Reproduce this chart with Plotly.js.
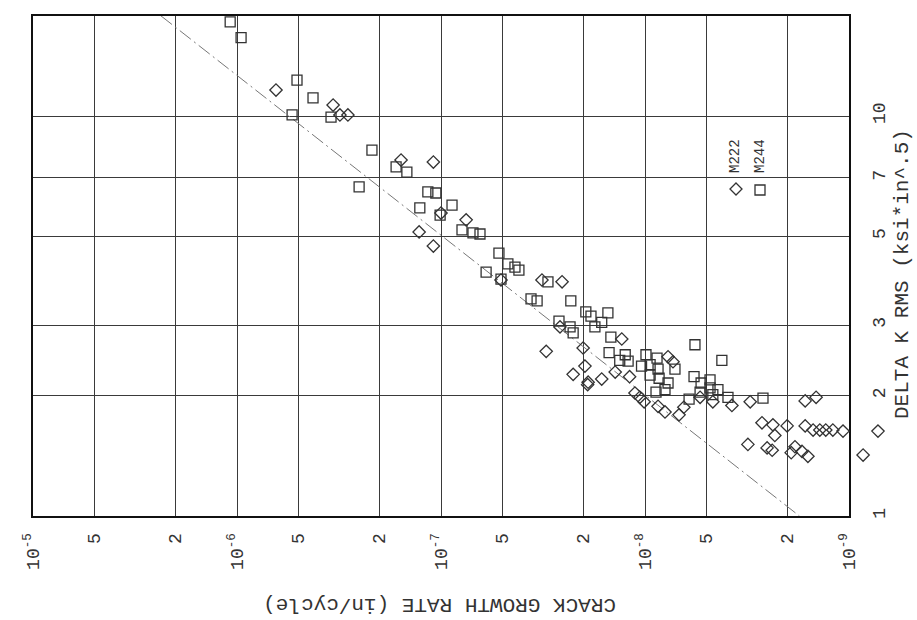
<!DOCTYPE html>
<html>
<head>
<meta charset="utf-8">
<script src="https://cdn.plot.ly/plotly-3.0.1.min.js"></script>
<style>
html,body{margin:0;padding:0;background:#fff;}
#chart{width:917px;height:620px;}
</style>
</head>
<body>
<div id="chart"></div>
<script>
// M244 (squares): crack growth rate (in/cycle) and Delta K RMS (ksi*in^.5)
const m244Rate = [1.08e-6, 9.55e-7, 5.08e-7, 4.24e-7, 5.37e-7, 3.46e-7, 2.18e-7, 2.52e-7, 1.66e-7, 1.47e-7,
  1.16e-7, 1.06e-7, 1.27e-7, 8.83e-8, 1.01e-7, 7.89e-8, 6.97e-8, 6.44e-8, 5.20e-8, 6.01e-8,
  4.70e-8, 4.34e-8, 4.15e-8, 5.08e-8, 2.99e-8, 3.62e-8, 3.38e-8, 2.31e-8, 1.95e-8, 1.84e-8,
  1.52e-8, 1.63e-8, 1.76e-8, 2.64e-8, 2.25e-8, 2.33e-8, 1.47e-8, 1.50e-8, 1.25e-8, 1.33e-8,
  1.21e-8, 9.89e-9, 1.04e-8, 8.73e-9, 7.13e-9, 8.63e-9, 9.44e-9, 9.44e-9, 8.53e-9, 7.71e-9,
  7.98e-9, 8.83e-9, 5.69e-9, 4.20e-9, 5.75e-9, 5.31e-9, 4.80e-9, 5.37e-9, 4.80e-9, 4.39e-9,
  4.65e-9, 3.92e-9, 6.08e-9, 2.64e-9];
const m244K = [17.2, 15.7, 12.3, 11.1, 10.06, 9.94, 8.22, 6.65, 7.46, 7.24,
  6.46, 6.42, 5.89, 5.99, 5.65, 5.19, 5.10, 5.07, 4.54, 4.07,
  4.27, 4.19, 4.12, 3.91, 3.85, 3.49, 3.45, 3.45, 3.24, 3.16,
  3.22, 3.05, 2.97, 3.07, 2.87, 2.97, 2.80, 2.56, 2.53, 2.45,
  2.44, 2.53, 2.37, 2.48, 2.33, 2.33, 2.39, 2.25, 2.21, 2.15,
  2.07, 2.04, 2.68, 2.45, 2.23, 2.15, 2.19, 2.04, 2.09, 2.07,
  2.01, 1.98, 1.96, 1.97];

// M222 (diamonds)
const m222Rate = [6.44e-7, 3.38e-7, 3.13e-7, 2.86e-7, 1.57e-7, 1.09e-7, 1.00e-7, 1.28e-7, 7.53e-8, 1.09e-7,
  5.08e-8, 3.20e-8, 2.55e-8, 2.61e-8, 2.01e-8, 3.05e-8, 1.30e-8, 7.71e-9, 7.29e-9, 1.97e-8,
  2.25e-8, 1.90e-8, 1.91e-8, 1.63e-8, 1.40e-8, 1.19e-8, 1.12e-8, 1.06e-8, 1.01e-8, 8.63e-9,
  7.98e-9, 6.81e-9, 6.45e-9, 5.37e-9, 4.65e-9, 3.75e-9, 3.05e-9, 1.64e-9, 1.45e-9, 2.67e-9,
  2.36e-9, 2.01e-9, 2.31e-9, 1.64e-9, 1.50e-9, 1.39e-9, 1.30e-9, 1.20e-9, 1.07e-9, 3.13e-9,
  2.52e-9, 2.38e-9, 1.92e-9, 1.84e-9, 1.70e-9, 1.59e-9, 7.21e-10, 8.53e-10];
const m222K = [11.61, 10.65, 10.06, 10.06, 7.76, 7.67, 5.72, 5.13, 5.50, 4.73,
  3.89, 3.89, 3.85, 2.97, 2.63, 2.58, 2.77, 2.50, 2.43, 2.37,
  2.26, 2.16, 2.13, 2.20, 2.29, 2.23, 2.03, 1.98, 1.93, 1.88,
  1.82, 1.79, 1.87, 1.98, 1.93, 1.89, 1.93, 1.94, 1.98, 1.71,
  1.69, 1.68, 1.59, 1.68, 1.64, 1.64, 1.64, 1.64, 1.63, 1.51,
  1.48, 1.46, 1.44, 1.49, 1.45, 1.41, 1.63, 1.42];

// fitted line end points
const fitRate = [2.36e-6, 1.75e-9];
const fitK = [17.8, 1.0];

// tick labels
const rateTickVals = [1e-5, 5e-6, 2e-6, 1e-6, 5e-7, 2e-7, 1e-7, 5e-8, 2e-8, 1e-8, 5e-9, 2e-9, 1e-9];
const rateTickText = ['10<sup>-5</sup>', '5', '2', '10<sup>-6</sup>', '5', '2', '10<sup>-7</sup>', '5', '2', '10<sup>-8</sup>', '5', '2', '10<sup>-9</sup>'];
const kTickVals = [1, 2, 3, 5, 7, 10];
const kTickText = ['1', '2', '3', '5', '7', '10'];

const FONT = '"Liberation Mono", "DejaVu Sans Mono", monospace';
const INK = '#333';

// geometry (pixels)
const L = 33, T = 16, FRAME_R = 849, PAPER_R = 895, B = 516;
const W = PAPER_R - L, H = B - T;
const decadePx = (FRAME_R - L) / 4;
const PX = px => (px - L) / W;
const PY = py => (B - py) / H;

const traces = [
  {
    x: fitRate, y: fitK, type: 'scatter', mode: 'lines',
    line: {color: '#777', width: 1, dash: '14px,4px,2px,4px'},
    hoverinfo: 'skip', showlegend: false
  },
  {
    x: m244Rate, y: m244K, type: 'scatter', mode: 'markers', name: 'M244',
    marker: {symbol: 'square-open', size: 10, color: INK, line: {width: 1.3, color: INK}},
    showlegend: false
  },
  {
    x: m222Rate, y: m222K, xaxis: 'x2', yaxis: 'y2', type: 'scatter', mode: 'markers', name: 'M222',
    marker: {symbol: 'diamond-open', size: 9.5, color: INK, line: {width: 1.3, color: INK}},
    showlegend: false
  }
];

const dRect = (cx, cy, h) => ({x0: PX(cx - h), x1: PX(cx + h), y0: PY(cy + h), y1: PY(cy - h)});
const sq = dRect(760, 190, 5);
const dc = {x: PX(736), y: PY(189), hx: 6 / W, hy: 6 / H};

const layout = {
  width: 917, height: 620,
  margin: {l: L, r: 917 - PAPER_R, t: T, b: 620 - B, autoexpand: false},
  paper_bgcolor: '#fff', plot_bgcolor: 'rgba(0,0,0,0)',
  font: {family: FONT, color: INK, size: 18},
  showlegend: false,
  xaxis: {
    type: 'log', range: [-5, -9], domain: [0, (FRAME_R - L) / W],
    tickvals: rateTickVals, ticktext: rateTickText,
    tickangle: -90, ticks: '', ticklabelstandoff: 8,
    tickfont: {family: FONT, size: 18, color: INK},
    showgrid: true, gridcolor: '#3a3a3a', gridwidth: 1,
    showline: true, mirror: true, linecolor: '#111', linewidth: 2,
    zeroline: false, anchor: 'y'
  },
  yaxis: {
    type: 'log', range: [0, 1.25], side: 'right', anchor: 'x',
    tickvals: kTickVals, ticktext: kTickText,
    tickangle: -90, ticks: '', ticklabelstandoff: 12,
    tickfont: {family: FONT, size: 18, color: INK},
    showgrid: true, gridcolor: '#3a3a3a', gridwidth: 1,
    showline: true, mirror: true, linecolor: '#111', linewidth: 2,
    zeroline: false
  },
  xaxis2: {
    type: 'log', range: [-5, -5 - W / decadePx], domain: [0, 1],
    anchor: 'y2', visible: false, showgrid: false
  },
  yaxis2: {
    type: 'log', range: [0, 1.25], domain: [0, 1],
    anchor: 'x2', visible: false, showgrid: false
  },
  shapes: [
    {type: 'rect', xref: 'paper', yref: 'paper', x0: PX(713), x1: PX(791), y0: PY(184), y1: PY(121),
     fillcolor: '#fff', line: {width: 0}, layer: 'between'},
    {type: 'path', xref: 'paper', yref: 'paper',
     path: `M ${dc.x},${dc.y + dc.hy} L ${dc.x + dc.hx},${dc.y} L ${dc.x},${dc.y - dc.hy} L ${dc.x - dc.hx},${dc.y} Z`,
     line: {color: INK, width: 1.3}, layer: 'above'},
    Object.assign({type: 'rect', xref: 'paper', yref: 'paper',
     line: {color: INK, width: 1.3}, layer: 'above'}, sq)
  ],
  annotations: [
    {text: 'CRACK GROWTH RATE (in/cycle)', xref: 'paper', yref: 'paper', x: PX(440), y: PY(605),
     xanchor: 'center', yanchor: 'middle', textangle: 180, showarrow: false,
     font: {family: FONT, size: 21, color: INK}},
    {text: 'DELTA K RMS (ksi*in^.5)', xref: 'paper', yref: 'paper', x: PX(902), y: PY(274),
     xanchor: 'center', yanchor: 'middle', textangle: -90, showarrow: false,
     font: {family: FONT, size: 21, color: INK}},
    {text: 'M222', xref: 'paper', yref: 'paper', x: PX(735), y: PY(156),
     xanchor: 'center', yanchor: 'middle', textangle: -90, showarrow: false,
     font: {family: FONT, size: 14, color: INK}},
    {text: 'M244', xref: 'paper', yref: 'paper', x: PX(760), y: PY(156),
     xanchor: 'center', yanchor: 'middle', textangle: -90, showarrow: false,
     font: {family: FONT, size: 14, color: INK}}
  ]
};

Plotly.newPlot('chart', traces, layout, {staticPlot: true, displayModeBar: false});
</script>
</body>
</html>
